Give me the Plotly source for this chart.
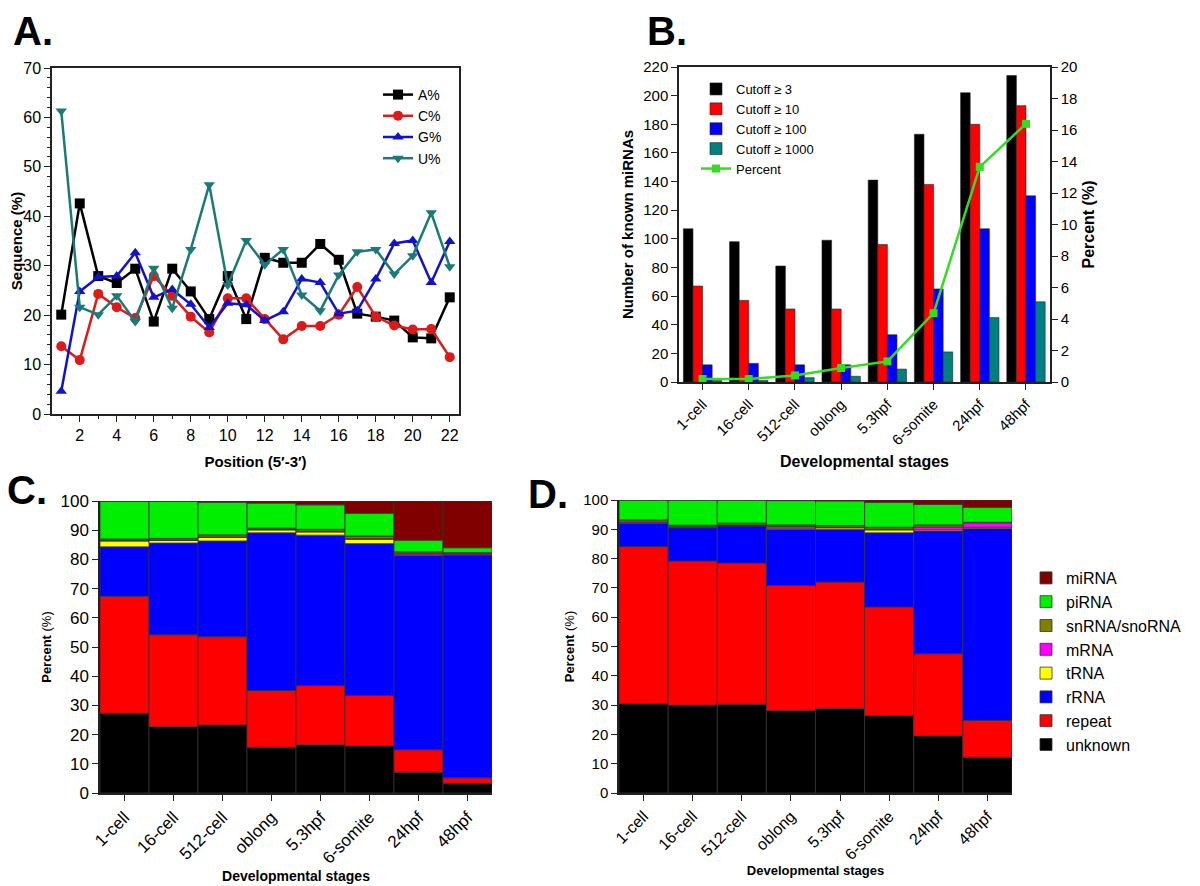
import numpy as np
import plotly.graph_objects as go

# ---------------- Panel A data ----------------
positions = list(range(1, 23))
A_pct = [20.1, 42.6, 27.9, 26.5, 29.4, 18.7, 29.4, 24.8, 19.2, 27.9, 19.2,
         31.6, 30.6, 30.6, 34.4, 31.2, 20.3, 19.7, 18.9, 15.5, 15.3, 23.6]
C_pct = [13.7, 10.9, 24.3, 21.6, 19.4, 27.9, 23.9, 19.7, 16.5, 23.4, 23.4,
         19.2, 15.1, 17.8, 17.8, 20.1, 25.7, 19.7, 17.9, 17.1, 17.2, 11.5]
G_pct = [4.6, 24.8, 27.7, 27.9, 32.6, 23.6, 25.2, 22.2, 17.5, 22.4, 22.1,
         18.9, 20.7, 27.3, 26.6, 20.3, 20.9, 27.3, 34.5, 35.1, 26.6, 34.9]
U_pct = [61.3, 21.6, 20.1, 23.9, 18.7, 29.5, 21.4, 33.3, 46.4, 26.1, 35.1,
         30.2, 33.3, 24.1, 20.9, 28.1, 32.8, 33.3, 28.3, 32.0, 40.7, 29.8]

# ---------------- Panel B data ----------------
stages = ["1-cell", "16-cell", "512-cell", "oblong", "5.3hpf", "6-somite", "24hpf", "48hpf"]
cutoff3 = [107, 98, 81, 99, 141, 173, 202, 214]
cutoff10 = [67, 57, 51, 51, 96, 138, 180, 193]
cutoff100 = [12, 13, 12, 12, 33, 65, 107, 130]
cutoff1000 = [1, 1, 3, 4, 9, 21, 45, 56]
percent_known = [0.19, 0.19, 0.42, 0.89, 1.31, 4.37, 13.66, 16.39]

# ---------------- Panel C data (bottom -> top) ----------------
classes = ["unknown", "repeat", "rRNA", "tRNA", "mRNA", "snRNA/snoRNA", "piRNA", "miRNA"]
C_unknown = [27.3, 22.7, 23.3, 15.7, 16.5, 16.1, 7.1, 3.3]
C_repeat = [40.1, 31.5, 30.2, 19.4, 20.3, 17.3, 7.7, 1.9]
C_rRNA = [16.9, 31.4, 32.8, 54.0, 51.5, 52.0, 66.5, 76.3]
C_tRNA = [2.0, 0.9, 1.2, 1.0, 1.1, 1.5, 0.3, 0.1]
C_mRNA = [0.2, 0.2, 0.2, 0.2, 0.3, 0.3, 0.5, 0.4]
C_snRNA = [0.5, 0.5, 0.7, 0.4, 0.6, 0.8, 0.5, 0.3]
C_piRNA = [12.9, 12.7, 11.2, 8.6, 8.4, 7.8, 4.0, 1.7]
C_miRNA = [0.1, 0.1, 0.4, 0.7, 1.3, 4.2, 13.4, 16.0]

# ---------------- Panel D data (bottom -> top) ----------------
D_unknown = [30.5, 30.0, 30.3, 28.1, 28.8, 26.4, 19.5, 12.2]
D_repeat = [53.6, 49.2, 48.2, 42.7, 43.2, 37.1, 28.0, 12.6]
D_rRNA = [7.9, 11.3, 12.6, 19.2, 17.9, 25.3, 41.9, 65.5]
D_tRNA = [0.2, 0.2, 0.2, 0.4, 0.6, 1.0, 0.4, 0.4]
D_mRNA = [0.3, 0.2, 0.2, 0.6, 0.3, 0.3, 1.0, 1.5]
D_snRNA = [0.7, 0.5, 0.6, 0.5, 0.5, 0.6, 0.7, 0.2]
D_piRNA = [6.8, 8.6, 7.9, 8.3, 8.4, 8.5, 7.0, 5.1]
D_miRNA = [0.0, 0.0, 0.0, 0.2, 0.3, 0.8, 1.5, 2.5]

class_colors = ["#000000", "#ff0000", "#0000ff", "#ffff00", "#ff00ff", "#808000", "#00ee00", "#800000"]

FONT = "Liberation Sans, Arial, sans-serif"
OFF = 8                      # default page margin of the HTML body
W, H = 1200 - OFF, 886 - OFF


def px_x(a, b):
    return [(a - OFF) / W, (b - OFF) / W]


def px_y(top, bottom):
    return [1 - (bottom - OFF) / H, 1 - (top - OFF) / H]


def fx(a):
    return (a - OFF) / W


def fy(a):
    return 1 - (a - OFF) / H


fig = go.Figure()

# ---------------- Panel A ----------------
a_series = [("A%", A_pct, "#000000", "square"),
            ("C%", C_pct, "#dd1a1a", "circle"),
            ("G%", G_pct, "#1212cc", "triangle-up"),
            ("U%", U_pct, "#1a7a7a", "triangle-down")]
for name, vals, col, sym in a_series:
    fig.add_trace(go.Scatter(x=positions, y=vals, name=name, mode="lines+markers",
                             line=dict(color=col, width=2.5),
                             marker=dict(symbol=sym, size=10, color=col),
                             xaxis="x", yaxis="y", legend="legend"))

# ---------------- Panel B ----------------
b_series = [("Cutoff \u2265 3", cutoff3, "#000000"),
            ("Cutoff \u2265 10", cutoff10, "#ff0000"),
            ("Cutoff \u2265 100", cutoff100, "#0000ff"),
            ("Cutoff \u2265 1000", cutoff1000, "#008080")]
for name, vals, col in b_series:
    fig.add_trace(go.Bar(x=stages, y=vals, name=name, marker=dict(color=col, line=dict(color="#222", width=0.6)),
                         xaxis="x2", yaxis="y2", legend="legend2"))
fig.add_trace(go.Scatter(x=stages, y=percent_known, name="Percent", mode="lines+markers",
                         line=dict(color="#33dd22", width=2.5),
                         marker=dict(symbol="square", size=8, color="#33dd22"),
                         xaxis="x2", yaxis="y3", legend="legend2"))

# ---------------- Panel C & D (stacked via base) ----------------
C_layers = [C_unknown, C_repeat, C_rRNA, C_tRNA, C_mRNA, C_snRNA, C_piRNA, C_miRNA]
D_layers = [D_unknown, D_repeat, D_rRNA, D_tRNA, D_mRNA, D_snRNA, D_piRNA, D_miRNA]


def add_stack(layers, xa, ya, group, show):
    base = np.zeros(len(stages))
    for name, vals, col in zip(classes, layers, class_colors):
        v = np.array(vals, dtype=float)
        fig.add_trace(go.Bar(x=stages, y=v, base=base.copy(), name=name, width=1.0,
                             offsetgroup=group,
                             marker=dict(color=col, line=dict(color="#333", width=0.8)),
                             xaxis=xa, yaxis=ya, showlegend=show, legend="legend3"))
        base = base + v


add_stack(C_layers, "x3", "y4", "c", False)
add_stack(D_layers, "x4", "y5", "d", True)

tickfont = dict(family=FONT, size=16, color="#000")
axline = dict(showline=True, linecolor="#222", linewidth=1.5, ticks="outside",
              tickcolor="#222", tickwidth=1.2, ticklen=6, showgrid=False, zeroline=False,
              automargin=False)

layout = dict(
    width=W, height=H, margin=dict(l=0, r=0, t=0, b=0),
    paper_bgcolor="white", plot_bgcolor="white",
    font=dict(family=FONT, color="#000"),
    barmode="group", bargap=0.17, bargroupgap=0,
    # A
    xaxis=dict(domain=px_x(52, 459), anchor="y", range=[0.5, 22.5], tick0=0, dtick=2,
               mirror=True, tickfont=tickfont,
               minor=dict(ticks="outside", dtick=1, tick0=0, ticklen=3, tickcolor="#222"),
               title=dict(text="<b>Position (5\u2032-3\u2032)</b>", font=dict(size=15), standoff=14),
               **axline),
    yaxis=dict(domain=px_y(68, 414), anchor="x", range=[0, 70], dtick=10, mirror=True,
               tickfont=tickfont,
               minor=dict(ticks="outside", dtick=2, ticklen=3, tickcolor="#222"),
               title=dict(text="<b>Sequence (%)</b>", font=dict(size=15), standoff=8),
               **axline),
    # B
    xaxis2=dict(domain=px_x(679, 1050), anchor="y2", range=[-0.51, 7.52], type="category",
                mirror=True, tickangle=-45, tickfont=dict(family=FONT, size=15),
                title=dict(text="<b>Developmental stages</b>", font=dict(size=16), standoff=8),
                **axline),
    yaxis2=dict(domain=px_y(67, 382), anchor="x2", range=[0, 220], dtick=20,
                tickfont=dict(family=FONT, size=15),
                title=dict(text="<b>Number of known miRNAs</b>", font=dict(size=15), standoff=6),
                **axline),
    yaxis3=dict(overlaying="y2", side="right", anchor="x2", range=[0, 20], dtick=2,
                tickfont=dict(family=FONT, size=15),
                title=dict(text="<b>Percent (%)</b>", font=dict(size=16), standoff=6),
                **axline),
    # C
    xaxis3=dict(domain=px_x(100, 492), anchor="y4", range=[-0.5, 7.5], type="category",
                tickangle=-45, tickfont=dict(family=FONT, size=17),
                title=dict(text="<b>Developmental stages</b>", font=dict(size=14), standoff=4),
                **axline),
    yaxis4=dict(domain=px_y(501, 793), anchor="x3", range=[0, 100], dtick=10,
                tickfont=dict(family=FONT, size=17),
                title=dict(text="<b>Percent</b> (%)", font=dict(size=13), standoff=6),
                **axline),
    # D
    xaxis4=dict(domain=px_x(619, 1012), anchor="y5", range=[-0.5, 7.5], type="category",
                tickangle=-45, tickfont=dict(family=FONT, size=16),
                title=dict(text="<b>Developmental stages</b>", font=dict(size=13), standoff=4),
                **axline),
    yaxis5=dict(domain=px_y(500, 793), anchor="x4", range=[0, 100], dtick=10,
                tickfont=dict(family=FONT, size=15),
                title=dict(text="<b>Percent</b> (%)", font=dict(size=13), standoff=6),
                **axline),
    legend=dict(x=fx(378), y=fy(79), xanchor="left", yanchor="top",
                font=dict(family=FONT, size=14), bgcolor="rgba(0,0,0,0)",
                tracegroupgap=0, itemwidth=30),
    legend2=dict(x=fx(696), y=fy(74), xanchor="left", yanchor="top",
                 font=dict(family=FONT, size=13), bgcolor="rgba(0,0,0,0)",
                 tracegroupgap=0, traceorder="normal"),
    legend3=dict(x=fx(1026), y=fy(561), xanchor="left", yanchor="top",
                 font=dict(family=FONT, size=16), bgcolor="rgba(0,0,0,0)",
                 tracegroupgap=0, traceorder="reversed"),
    annotations=[
        dict(text="<b>A.</b>", x=fx(12), y=1, xref="paper", yref="paper", borderpad=0,
             xanchor="left", yanchor="top", showarrow=False, font=dict(size=40, family=FONT)),
        dict(text="<b>B.</b>", x=fx(646), y=1, xref="paper", yref="paper", borderpad=0,
             xanchor="left", yanchor="top", showarrow=False, font=dict(size=40, family=FONT)),
        dict(text="<b>C.</b>", x=fx(5), y=fy(490), xref="paper", yref="paper",
             xanchor="left", yanchor="middle", showarrow=False, font=dict(size=40, family=FONT)),
        dict(text="<b>D.</b>", x=fx(526), y=fy(494), xref="paper", yref="paper",
             xanchor="left", yanchor="middle", showarrow=False, font=dict(size=40, family=FONT)),
    ],
)
fig.update_layout(**layout)
fig.write_html("out.html")
